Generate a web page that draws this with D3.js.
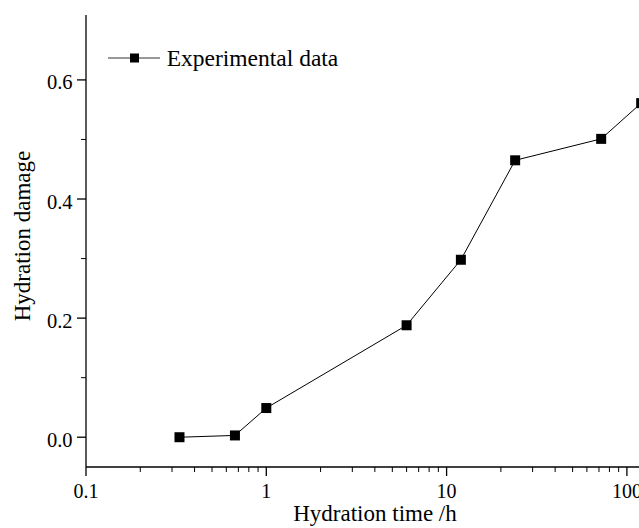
<!DOCTYPE html>
<html>
<head>
<meta charset="utf-8">
<script src="https://cdn.jsdelivr.net/npm/d3@7"></script>
<style>
  body { margin: 0; background: #fff; }
  svg { display: block; }
</style>
</head>
<body>
<div id="chart"></div>
<script>
  // hydration time (h) and damage values
  const hours  = [0.33, 0.67, 1, 6, 12, 24, 72, 120];
  const damage = [0.0, 0.003, 0.049, 0.188, 0.298, 0.465, 0.501, 0.561];
  const xTicks = [0.1, 1, 10, 100];
  const yTicks = [0.0, 0.2, 0.4, 0.6];
  const seriesName = "Experimental data";

  const W = 639, H = 528;
  const padL = 86, padB = 467, padT = 15;
  const serif = "'Liberation Serif', 'Times New Roman', Times, 'DejaVu Serif', serif";

  const svg = d3.select("#chart").append("svg")
    .attr("width", W).attr("height", H)
    .style("font-family", serif);

  // log x axis continues past the right edge (cropped, as in the figure)
  const x = d3.scaleLog().domain([0.1, 1000]).range([padL, padL + 4 * 180.3]);
  const y = d3.scaleLinear().domain([-0.05, 0.709]).range([padB, padT]);

  // minor ticks on x: 2..9 in each decade
  const xMinor = [];
  for (let d = 0.1; d < 1000; d *= 10)
    for (let k = 2; k <= 9; k++) xMinor.push(+(d * k).toPrecision(3));
  const yMinor = [0.1, 0.3, 0.5];

  const gx = svg.append("g").attr("transform", `translate(0,${padB})`);
  gx.append("line").attr("x1", padL).attr("x2", W + 5).attr("stroke", "#000").attr("stroke-width", 1.3);
  gx.selectAll(".maj").data(xTicks).join("line").attr("class", "maj")
    .attr("x1", d => x(d)).attr("x2", d => x(d)).attr("y1", 0).attr("y2", 9)
    .attr("stroke", "#000").attr("stroke-width", 1.3);
  gx.selectAll(".min").data(xMinor).join("line").attr("class", "min")
    .attr("x1", d => x(d)).attr("x2", d => x(d)).attr("y1", 0).attr("y2", 5)
    .attr("stroke", "#000").attr("stroke-width", 1);
  gx.selectAll("text").data(xTicks).join("text")
    .attr("x", d => x(d)).attr("y", 31)
    .attr("text-anchor", "middle").attr("font-size", 20)
    .style("font-family", serif)
    .text(d => d3.format("~g")(d));

  const gy = svg.append("g").attr("transform", `translate(${padL},0)`);
  gy.append("line").attr("y1", padT).attr("y2", padB).attr("stroke", "#000").attr("stroke-width", 1.3);
  gy.selectAll(".maj").data(yTicks).join("line").attr("class", "maj")
    .attr("y1", d => y(d)).attr("y2", d => y(d)).attr("x1", 0).attr("x2", -9)
    .attr("stroke", "#000").attr("stroke-width", 1.3);
  gy.selectAll(".min").data(yMinor).join("line").attr("class", "min")
    .attr("y1", d => y(d)).attr("y2", d => y(d)).attr("x1", 0).attr("x2", -5)
    .attr("stroke", "#000").attr("stroke-width", 1);
  gy.selectAll("text").data(yTicks).join("text")
    .attr("x", -13.5).attr("y", d => y(d) + 9.5)
    .attr("text-anchor", "end").attr("font-size", 20.5)
    .style("font-family", serif)
    .text(d => d3.format(".1f")(d));

  // axis titles
  svg.append("text").attr("x", 375).attr("y", 521)
    .attr("text-anchor", "middle").attr("font-size", 23)
    .style("font-family", serif)
    .text("Hydration time /h");
  svg.append("text")
    .attr("transform", "translate(30,236) rotate(-90)")
    .attr("text-anchor", "middle").attr("font-size", 23)
    .style("font-family", serif)
    .text("Hydration damage");

  // series
  const pts = hours.map((h, i) => [h, damage[i]]);
  svg.append("path").datum(pts)
    .attr("fill", "none").attr("stroke", "#000").attr("stroke-width", 1)
    .attr("d", d3.line().x(d => x(d[0])).y(d => y(d[1])));
  svg.selectAll(".pt").data(pts).join("rect").attr("class", "pt")
    .attr("x", d => x(d[0]) - 5).attr("y", d => y(d[1]) - 5)
    .attr("width", 10).attr("height", 10).attr("fill", "#000");

  // legend
  const lg = svg.append("g").attr("transform", "translate(108,58)");
  lg.append("line").attr("x1", 0).attr("x2", 52).attr("stroke", "#333").attr("stroke-width", 1.2);
  lg.append("rect").attr("x", 22).attr("y", -4.5).attr("width", 9).attr("height", 9).attr("fill", "#000");
  lg.append("text").attr("x", 58.7).attr("y", 8)
    .attr("font-size", 23.5)
    .style("font-family", serif)
    .text(seriesName);
</script>
</body>
</html>
